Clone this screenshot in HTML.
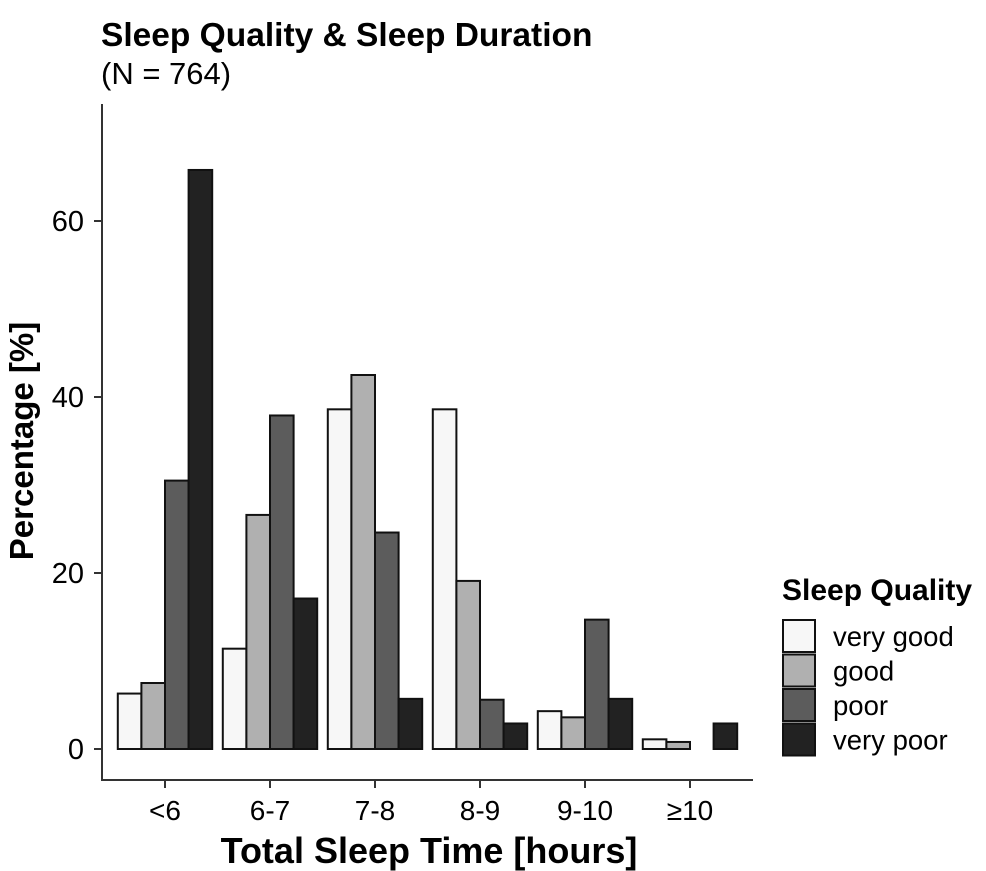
<!DOCTYPE html>
<html><head><meta charset="utf-8"><style>body{margin:0;background:#fff}svg{display:block;font-family:"Liberation Sans",sans-serif}</style></head>
<body>
<svg id="c" width="986" height="871">
<text x="101" y="46" font-size="33.5" font-weight="bold">Sleep Quality &amp; Sleep Duration</text>
<text x="101" y="84" font-size="31">(N = 764)</text>
<text transform="translate(33,441) rotate(-90)" text-anchor="middle" font-size="33" font-weight="bold">Percentage [%]</text>
<text x="429" y="863" text-anchor="middle" font-size="36" font-weight="bold">Total Sleep Time [hours]</text>
<line x1="102" y1="104" x2="102" y2="781" stroke="#333" stroke-width="2"/>
<line x1="101" y1="780" x2="753" y2="780" stroke="#333" stroke-width="2"/>
<g id="bars"></g><g id="ax"></g>
<text x="782" y="600" font-size="30" font-weight="bold">Sleep Quality</text>
<g id="leg"></g>
</svg>
<script>
const categories=["<6","6-7","7-8","8-9","9-10","≥10"];
const seriesNames=["very good","good","poor","very poor"];
const veryGood=[6.3,11.4,38.6,38.6,4.3,1.1];
const good=[7.5,26.6,42.5,19.1,3.6,0.8];
const poor=[30.5,37.9,24.6,5.6,14.7,0];
const veryPoor=[65.8,17.1,5.7,2.9,5.7,2.9];
const yTicks=[0,20,40,60];
const series=[veryGood,good,poor,veryPoor];
const colors=["#f7f7f7","#b0b0b0","#5c5c5c","#222"];
const NS="http://www.w3.org/2000/svg";
const y=v=>749-v*8.8;
const xc=i=>165+i*105;
const bw=23.6;
const bars=document.getElementById('bars'),ax=document.getElementById('ax'),leg=document.getElementById('leg');
function mk(tag,at,p){const e=document.createElementNS(NS,tag);for(const k in at)e.setAttribute(k,at[k]);p.appendChild(e);return e;}
series.forEach((s,j)=>s.forEach((v,i)=>{
 const r=mk('rect',{x:xc(i)-2*bw+j*bw,y:y(v),width:bw,height:y(0)-y(v),fill:colors[j],stroke:"#111","stroke-width":2},bars);
 
 
}));
yTicks.forEach(t=>{
 const l=mk('line',{x1:94,x2:102,y1:y(t),y2:y(t),stroke:"#333","stroke-width":2},ax);
 
 
 const tx=mk('text',{x:84,y:y(t)+10,"text-anchor":"end","font-size":29},ax);tx.textContent=t;
 
 
});
categories.forEach((c,i)=>{
 const l=mk('line',{x1:xc(i),x2:xc(i),y1:780,y2:788,stroke:"#333","stroke-width":2},ax);
 
 
 const tx=mk('text',{x:xc(i),y:820,"text-anchor":"middle","font-size":28},ax);tx.textContent=c;
 
 
});
seriesNames.forEach((n,j)=>{
 const r=mk('rect',{x:783,y:620+j*34.5,width:32,height:32,fill:colors[j],stroke:"#111","stroke-width":2},leg);
 
 
 const tx=mk('text',{x:833,y:646+j*34.5,"font-size":27.5},leg);tx.textContent=n;
 
 
});
</script>
</body></html>
